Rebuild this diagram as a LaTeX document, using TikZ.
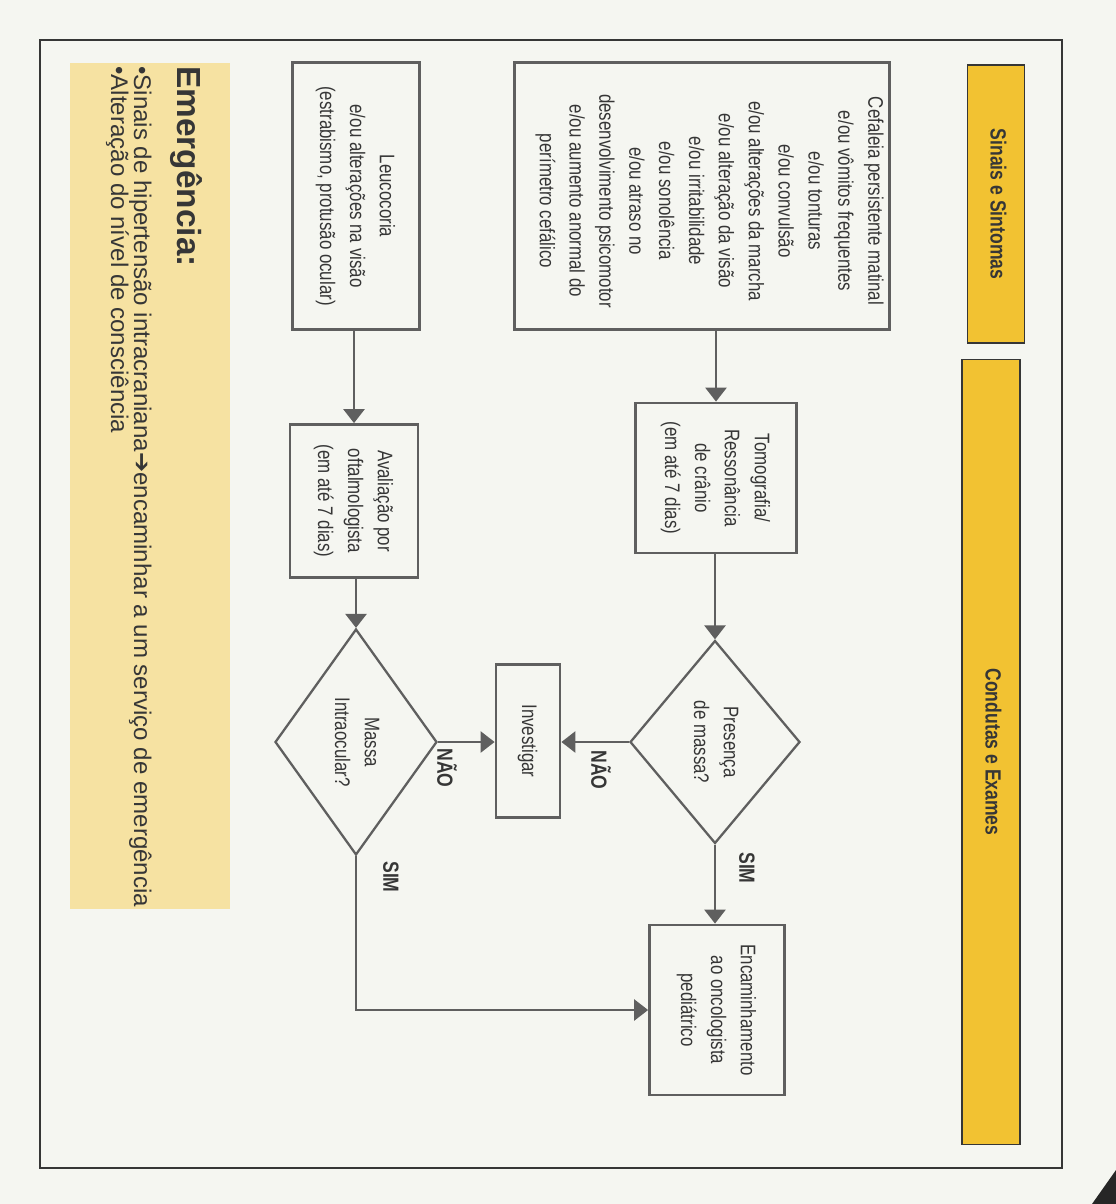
\documentclass[tikz,border=0pt]{standalone}
\usepackage{fontspec}
\setmainfont{Liberation Sans}
\newfontfamily\condensed[FakeStretch=0.8]{Liberation Sans}
\newfontfamily\arrowfont{DejaVu Sans}
\usetikzlibrary{shapes.geometric,arrows.meta}

\definecolor{paper}{HTML}{F5F6F1}
\definecolor{ink}{HTML}{363636}
\definecolor{boxline}{HTML}{5F5F5F}
\definecolor{bandyellow}{HTML}{F2C232}
\definecolor{noteyellow}{HTML}{F6E2A2}

% text set sideways, reading from top to bottom
\newcommand\sidetext[1]{\rotatebox{-90}{\begin{tabular}{@{}c@{}}#1\end{tabular}}}
\newcommand\boxfont{\condensed\fontsize{12}{17}\selectfont}
\newcommand\bandfont{\condensed\bfseries\fontsize{12.5}{15}\selectfont}
\newcommand\tagfont{\condensed\bfseries\fontsize{12.5}{15}\selectfont}

\begin{document}
\begin{tikzpicture}[x=0.02cm, y=-0.02cm,
  stepbox/.style={draw=boxline, line width=1.6pt, fill=paper, inner sep=0pt,
    font=\boxfont, text=ink},
  band/.style={draw=ink, line width=0.8pt, fill=bandyellow, inner sep=0pt,
    font=\bandfont, text=ink},
  choice/.style={diamond, draw=boxline, line width=1.3pt, fill=paper,
    inner sep=0pt, font=\boxfont, text=ink},
  arr/.style={draw=boxline, line width=1.5pt, -{Triangle[length=8pt,width=12pt]}},
  tag/.style={font=\tagfont, rotate=-90, text=ink, inner sep=0pt},
  emfont/.style={rotate=-90, anchor=base west, inner sep=0pt, text=ink}]

% page and frame
\useasboundingbox (0,0) rectangle (1116,1204);
\fill[paper] (0,0) rectangle (1116,1204);
\draw[ink, line width=1.5pt] (40,40) rectangle (1062,1168);
\fill[black!85] (1092,1204) -- (1116,1170) -- (1116,1204) -- cycle;

% column headers
\node[band, minimum width=1.14cm, minimum height=5.56cm] (sinais) at (996,204)
  {\sidetext{Sinais e Sintomas}};
\node[band, minimum width=1.16cm, minimum height=15.7cm] (condutas) at (991,752)
  {\sidetext{Condutas e Exames}};

% symptoms
\node[stepbox, minimum width=7.5cm, minimum height=5.34cm] (cef) at (702,196) {};
\node[font=\boxfont, text=ink, inner sep=0pt] (ceftext) at (710,201)
  {\sidetext{Cefaleia persistente matinal\\
   e/ou vômitos frequentes\\
   e/ou tonturas\\
   e/ou convulsão\\
   e/ou alterações da marcha\\
   e/ou alteração da visão\\
   e/ou irritabilidade\\
   e/ou sonolência\\
   e/ou atraso no\\
   desenvolvimento psicomotor\\
   e/ou aumento anormal do\\
   perímetro cefálico}};
\node[stepbox, minimum width=2.54cm, minimum height=5.34cm] (leu) at (356,196)
  {\sidetext{Leucocoria\\ e/ou alterações na visão\\ (estrabismo, protusão ocular)}};

% exams
\node[stepbox, minimum width=3.22cm, minimum height=3.0cm] (tom) at (716,478)
  {\sidetext{Tomografia/\\ Ressonância\\ de crânio\\ (em até 7 dias)}};
\node[stepbox, minimum width=2.56cm, minimum height=3.06cm] (ava) at (354,501)
  {\sidetext{Avaliação por\\ oftalmologista\\ (em até 7 dias)}};

% decisions
\node[choice, minimum width=3.4cm, minimum height=4.06cm] (pres) at (715,742)
  {\sidetext{Presença\\ de massa?}};
\node[choice, minimum width=3.24cm, minimum height=4.52cm] (massa) at (356,742)
  {\sidetext{Massa\\ Intraocular?}};

% outcomes
\node[stepbox, minimum width=1.28cm, minimum height=3.06cm] (inv) at (528,741)
  {\sidetext{Investigar}};
\node[stepbox, minimum width=2.7cm, minimum height=3.4cm] (enc) at (717,1010)
  {\sidetext{Encaminhamento\\ ao oncologista\\ pediátrico}};

% connectors
\draw[arr] (cef.south -| tom.north) -- (tom.north);
\draw[arr] (tom.south -| pres.north) -- (pres.north);
\draw[arr] (pres.south) -- (pres.south |- enc.north);
\draw[arr] (pres.west) -- (pres.west -| inv.east);
\draw[arr] (leu.south -| ava.north) -- (ava.north);
\draw[arr] (ava.south -| massa.north) -- (massa.north);
\draw[arr] (massa.east) -- (massa.east -| inv.west);
\draw[arr] (massa.south) |- (enc.west);

% branch labels
\node[tag] (nao1) at (601,770) {NÃO};
\node[tag] (sim1) at (747,868) {SIM};
\node[tag] (nao2) at (447,768) {NÃO};
\node[tag] (sim2) at (391,877) {SIM};

% emergency note
\node[fill=noteyellow, minimum width=3.2cm, minimum height=16.94cm, inner sep=0pt]
  (note) at (150,486) {};
\node[emfont, font=\bfseries\fontsize{19}{22}\selectfont] (emtitle) at (177,66)
  {Emergência:};
\node[emfont, font=\fontsize{13.7}{15}\selectfont] (emline1) at (134,66)
  {•Sinais de hipertensão intracraniana{\arrowfont\bfseries ➔}encaminhar a um serviço de emergência};
\node[emfont, font=\fontsize{13.7}{15}\selectfont] (emline2) at (111,66)
  {•Alteração do nível de consciência};
\end{tikzpicture}
\end{document}
